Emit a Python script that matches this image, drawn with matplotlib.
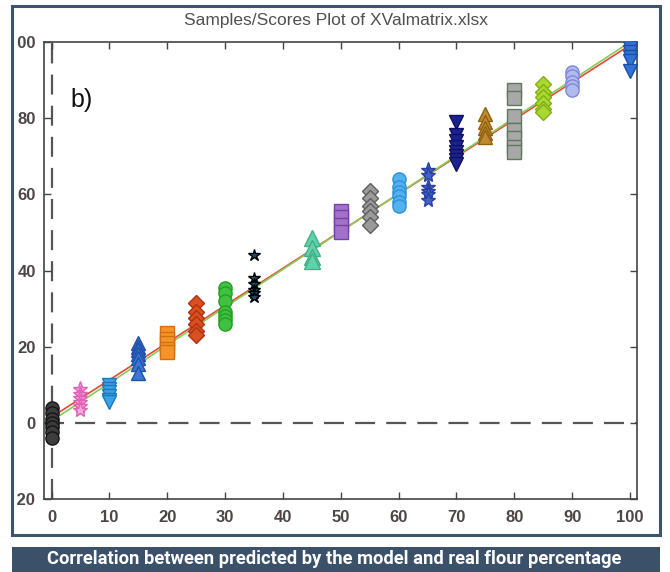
import matplotlib
matplotlib.use("Agg")
import matplotlib.pyplot as plt
from matplotlib import font_manager
from matplotlib.transforms import Bbox, TransformedBbox
from matplotlib.patches import Rectangle
import numpy as np

# ---------------- data ----------------
group_x = [0, 5, 10, 15, 20, 25, 30, 35, 45, 50, 55, 60, 65, 70, 75, 80, 85, 90, 100]
group_y = [
    [4, 2.5, 1, 0, -1, -2.5, -4],
    [9, 7.5, 6.5, 5.5, 4.5, 3.5],
    [10, 9, 8, 7, 6, 5.5],
    [21, 20, 19, 18, 17, 15.5, 13],
    [23.5, 22, 21, 19.5, 18.5],
    [31.5, 29, 27.5, 26, 24, 23],
    [35.5, 34, 32, 29, 28, 27, 26],
    [44, 38, 36.5, 35, 34, 33],
    [48.5, 46, 43.5, 42.5],
    [55.5, 54, 52, 50],
    [61, 59, 57, 55.5, 54, 52],
    [64, 62, 60.5, 59.5, 58, 57],
    [66.5, 65, 62, 61, 60, 58.5],
    [79, 75.5, 74, 72.5, 71, 70, 69, 68],
    [81, 79, 77.5, 76, 75],
    [87.3, 85.2, 80.7, 76.8, 74.7, 72.5, 71],
    [89, 87, 85.5, 84, 82.5, 81.5],
    [92, 91, 89.5, 88.5, 87.5],
    [98.5, 97.5, 96, 95, 92.5],
]
group_marker = ['o', '*', 'v', '^', 's', 'D', 'o', '*', '^', 's', 'D', 'o', '*', 'v', '^', 's', 'D', 'o', 'v']
group_face = ['#3c3c3c', '#f6a8dc', '#3aa2e2', '#3a78d2', '#f5922a', '#d65020', '#42c042', '#1a5070',
              '#62d0aa', '#a072c8', '#9a9a9a', '#52b2f0', '#4262c8', '#1a2290', '#c08a30', '#a8a8a8',
              '#aad832', '#b2baf0', '#3272d2']
group_edge = ['#151515', '#e060b6', '#1a78c0', '#2050a8', '#d07010', '#b03010', '#20a020', '#000000',
              '#40b088', '#7840a8', '#606060', '#3090d8', '#2a40a0', '#101060', '#906010', '#607860',
              '#80b010', '#8088d8', '#1850a8']
group_size = [9.5, 11, 10.5, 10.5, 9.5, 8, 9.5, 9, 11, 9.5, 8, 9.5, 11, 10.5, 10.5, 9.5, 8, 9.5, 10.5]

fit_names = ['target', 'fit']
fit_intercept = [1.5, 0.5]
fit_end = [99.2, 100.0]
fit_colors = ['#e8483a', '#86cc55']

x_ticks = [0, 10, 20, 30, 40, 50, 60, 70, 80, 90, 100]
y_ticks = [-20, 0, 20, 40, 60, 80, 100]

title = 'Samples/Scores Plot of XValmatrix.xlsx'
caption = 'Correlation between predicted by the model and real flour percentage'
panel = 'b)'

# ---------------- fonts ----------------
avail = {f.name for f in font_manager.fontManager.ttflist}
narrow = 'Liberation Sans Narrow' if 'Liberation Sans Narrow' in avail else 'Roboto'
base = 'Liberation Sans' if 'Liberation Sans' in avail else 'DejaVu Sans'
plt.rcParams['font.family'] = [base, 'DejaVu Sans']

W, H = 670, 572
fig = plt.figure(figsize=(W / 100, H / 100), dpi=100)
fig.patch.set_facecolor('white')

# outer frame
fig.patches.append(Rectangle((12 / W, 1 - 535 / H), (660 - 12) / W, (535 - 6) / H,
                             transform=fig.transFigure, fill=False, edgecolor='#3d5470',
                             linewidth=2.2, zorder=10))
# caption bar
fig.patches.append(Rectangle((12 / W, 0), (660 - 12) / W, (H - 547) / H,
                             transform=fig.transFigure, facecolor='#3b5069', edgecolor='none', zorder=1))
fig.text(334 / W, (H - 559.5) / H, caption, color='white', fontsize=13.2, fontweight='bold',
         family=[narrow, 'DejaVu Sans'], ha='center', va='center', zorder=11)

ax = fig.add_axes([44 / W, 1 - 499 / H, (637 - 44) / W, (499 - 42) / H])
ax.set_xlim(-1.3, 101.2)
ax.set_ylim(-20, 100)

# dashed reference lines
ax.axvline(0, color='#555555', lw=1.6, dashes=(9, 5), zorder=1)
ax.axhline(0, color='#555555', lw=1.6, dashes=(9, 5), zorder=1)

# fit lines
for b, e, c in zip(fit_intercept, fit_end, fit_colors):
    ax.plot([0, 100], [b, e], color=c, lw=1.2, zorder=2)

for x, ys, m, fc, ec, s in zip(group_x, group_y, group_marker, group_face, group_edge, group_size):
    ax.plot([x] * len(ys), ys, linestyle='none', marker=m, markersize=s,
            markerfacecolor=fc, markeredgecolor=ec, markeredgewidth=1.0, zorder=3)

ax.set_xticks(x_ticks)
ax.set_yticks(y_ticks)
ax.set_xticklabels([str(t) for t in x_ticks])
ax.set_yticklabels([str(t) for t in y_ticks])
ax.tick_params(direction='in', length=5, width=1, color='#444444', top=True, right=True,
               labelsize=12, labelcolor='#4e4646')
ax.tick_params(axis='x', pad=8)
ax.tick_params(axis='y', pad=6)
for lab in ax.get_xticklabels() + ax.get_yticklabels():
    lab.set_fontweight('bold')
for sp in ax.spines.values():
    sp.set_color('#444444')
    sp.set_linewidth(1.2)

clip = TransformedBbox(Bbox.from_extents(16.5 / W, 0, 1, 1), fig.transFigure)
for lab in ax.get_yticklabels():
    lab.set_clip_box(clip)
    lab.set_clip_on(True)

ax.text(3.3, 84.7, panel, fontsize=18, color='#111111', va='center', ha='left', zorder=5)
fig.text(336 / W, 1 - 20 / H, title, fontsize=12.5, color='#505050', ha='center', va='center')

fig.savefig('out.png', dpi=100)
